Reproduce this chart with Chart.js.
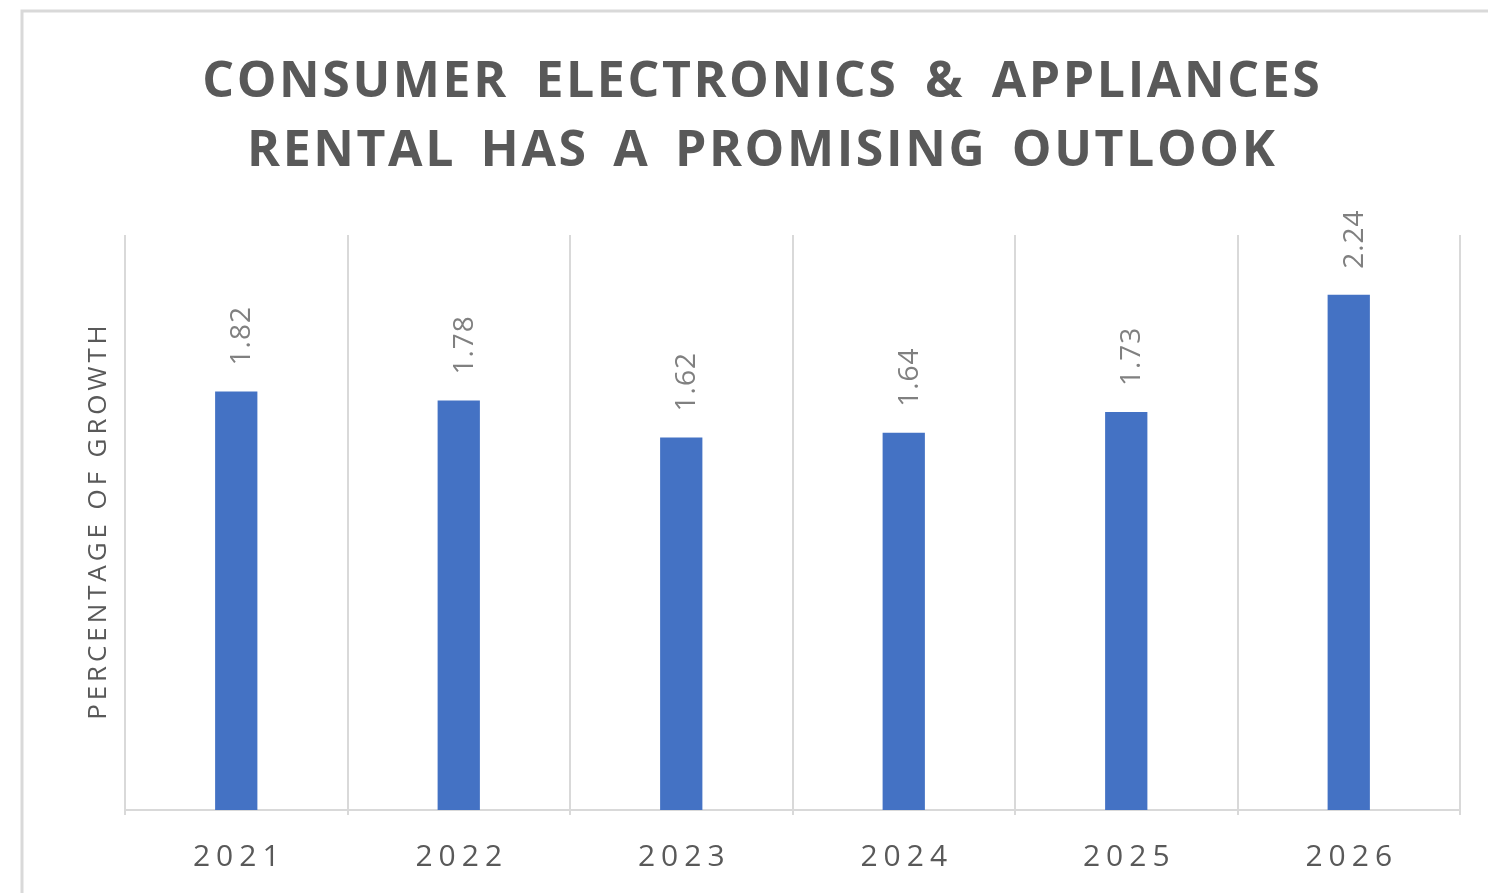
<!DOCTYPE html>
<html>
<head>
<meta charset="utf-8">
<title>Consumer Electronics & Appliances Rental</title>
<script src="https://cdn.jsdelivr.net/npm/chart.js@4/dist/chart.umd.min.js"></script>
<style>
  html, body { margin: 0; padding: 0; background: #ffffff; overflow: hidden; }
  canvas { display: block; }
</style>
</head>
<body>
<canvas id="myChart" width="1488" height="893"></canvas>
<script>
const years = ['2021', '2022', '2023', '2024', '2025', '2026'];
const growth = [1.82, 1.78, 1.62, 1.64, 1.73, 2.24];
const titleLines = ['CONSUMER ELECTRONICS & APPLIANCES', 'RENTAL HAS A PROMISING OUTLOOK'];
const yAxisTitle = 'PERCENTAGE OF GROWTH';

const TEXT_DARK = '#595959';
const LINE_GRAY = '#d9d9d9';

// spaced-out text for title, axis labels and values (canvas letterSpacing)
function spacedText(ctx, text, x, y, spacing, align, wordGap) {
  ctx.letterSpacing = spacing + 'px';
  ctx.wordSpacing = (wordGap || 0) + 'px';
  let dx = 0;
  if (align === 'center') dx = spacing / 2;
  ctx.textAlign = align;
  ctx.fillText(text, x + dx, y);
  ctx.letterSpacing = '0px';
  ctx.wordSpacing = '0px';
}

const textPlugin = {
  id: 'textPlugin',
  afterDraw(chart) {
    const ctx = chart.ctx;
    const area = chart.chartArea;
    const xScale = chart.scales.x;
    const meta = chart.getDatasetMeta(0);

    ctx.save();
    // outer frame
    ctx.strokeStyle = LINE_GRAY;
    ctx.lineWidth = 3;
    ctx.strokeRect(22, 11, 2000, 2000);

    // title
    ctx.fillStyle = TEXT_DARK;
    ctx.textBaseline = 'alphabetic';
    ctx.font = 'bold 50px "Open Sans"';
    spacedText(ctx, titleLines[0], 761, 97, 2.6, 'center', 11);
    spacedText(ctx, titleLines[1], 761, 166, 2.6, 'center', 9);

    // category labels
    ctx.font = '30px "Open Sans"';
    years.forEach((y, i) => {
      spacedText(ctx, y, xScale.getPixelForValue(i), 866, 6, 'center');
    });

    // y axis title
    ctx.save();
    ctx.translate(106, (area.top + area.bottom) / 2);
    ctx.rotate(-Math.PI / 2);
    ctx.font = '26px "Open Sans"';
    spacedText(ctx, yAxisTitle, 0, 0, 3.9, 'center');
    ctx.restore();

    // value labels above the bars
    ctx.fillStyle = '#808080';
    ctx.font = '28px "Open Sans"';
    meta.data.forEach((bar, i) => {
      ctx.save();
      ctx.translate(bar.x + 14, bar.y - 26);
      ctx.rotate(-Math.PI / 2);
      spacedText(ctx, growth[i].toFixed(2), 0, 0, 1, 'left');
      ctx.restore();
    });
    ctx.restore();
  }
};

new Chart(document.getElementById('myChart').getContext('2d'), {
  type: 'bar',
  data: {
    labels: years,
    datasets: [{
      label: 'Growth',
      data: growth,
      backgroundColor: '#4472C4',
      borderWidth: 0,
      categoryPercentage: 1,
      barPercentage: 0.19
    }]
  },
  options: {
    responsive: false,
    animation: false,
    layout: {
      padding: { top: 235, left: 125, right: 28, bottom: 78 }
    },
    plugins: {
      legend: { display: false },
      title: { display: false },
      tooltip: { enabled: false }
    },
    scales: {
      x: {
        grid: {
          offset: true,
          color: LINE_GRAY,
          lineWidth: 2,
          drawTicks: true,
          tickLength: 5
        },
        border: { color: LINE_GRAY, width: 2 },
        ticks: { display: false }
      },
      y: {
        display: false,
        min: 0,
        max: 2.5
      }
    }
  },
  plugins: [textPlugin]
});
</script>
</body>
</html>
